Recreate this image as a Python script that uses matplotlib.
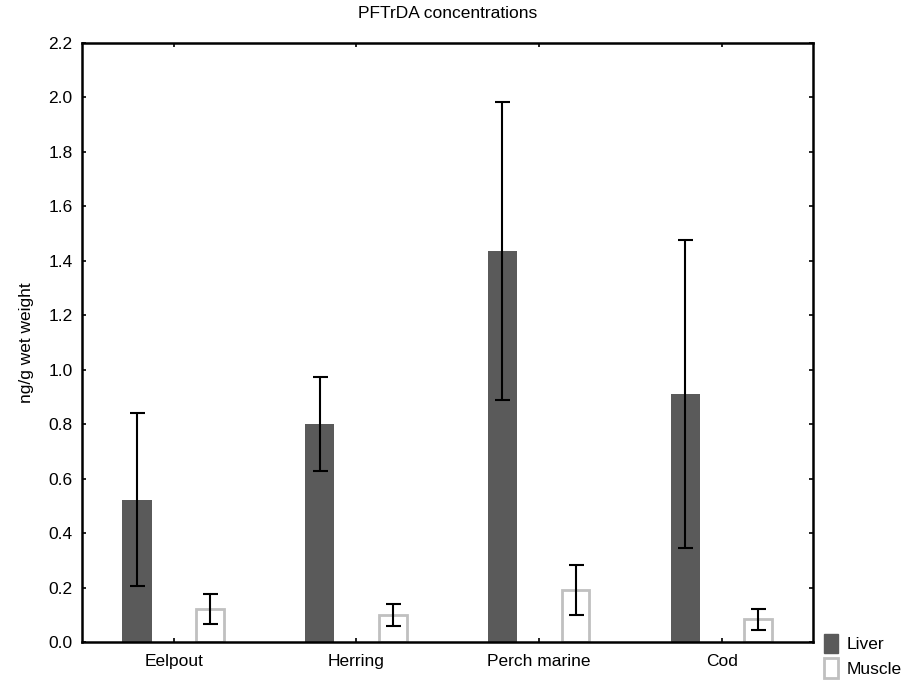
import matplotlib
matplotlib.use("Agg")
import matplotlib.pyplot as plt
import numpy as np
from matplotlib.patches import Patch

plt.rcParams['font.family'] = ['Liberation Sans', 'DejaVu Sans']

species = ["Eelpout", "Herring", "Perch marine", "Cod"]
liver = [0.523, 0.802, 1.436, 0.912]
liver_err = [0.317, 0.172, 0.548, 0.566]
muscle = [0.124, 0.101, 0.193, 0.085]
muscle_err = [0.055, 0.039, 0.093, 0.038]

fig = plt.figure(figsize=(9.17, 6.84), dpi=100)
ax = fig.add_axes([0.0897, 0.0607, 0.7969, 0.8769])

x = np.arange(len(species))
w = 0.16
ax.bar(x - 0.2, liver, w, color="#5a5a5a", edgecolor="#5a5a5a", linewidth=0)
ax.bar(x + 0.2, muscle, w * 0.95, color="white", edgecolor="#c0c0c0", linewidth=2)
ax.errorbar(x - 0.2, liver, yerr=liver_err, fmt="none", ecolor="black",
            elinewidth=1.5, capsize=5.4, capthick=1.5)
ax.errorbar(x + 0.2, muscle, yerr=muscle_err, fmt="none", ecolor="black",
            elinewidth=1.5, capsize=5.4, capthick=1.5)

ax.set_xlim(-0.5, 3.5)
ax.set_ylim(0, 2.2)
ax.set_yticks(np.arange(0, 2.21, 0.2))
ax.set_yticklabels(["%.1f" % v for v in np.arange(0, 2.21, 0.2)])
ax.set_xticks(x)
ax.set_xticklabels(species)
ax.tick_params(direction="in", length=3, width=1.2, top=True, right=True,
               labelsize=12.5)
ax.tick_params(axis="x", pad=8)
ax.tick_params(axis="y", pad=7)
for s in ax.spines.values():
    s.set_linewidth(1.8)

ax.set_ylabel("ng/g wet weight", fontsize=12.5, labelpad=10)
fig.text(0.0897 + 0.7969 / 2, 1 - 14 / 684, "PFTrDA concentrations",
         ha="center", va="center", fontsize=12.5)

handles = [Patch(facecolor="#5a5a5a", edgecolor="#5a5a5a"),
           Patch(facecolor="white", edgecolor="#c0c0c0", linewidth=2)]
fig.legend(handles, ["Liver", "Muscle"], loc="lower left",
           bbox_to_anchor=(818 / 917, 0.0), frameon=False, fontsize=12.5,
           handlelength=0.8, handleheight=1.35, handletextpad=0.5,
           labelspacing=0.3, borderaxespad=0.15, borderpad=0.2)

fig.savefig("out.png", dpi=100)
